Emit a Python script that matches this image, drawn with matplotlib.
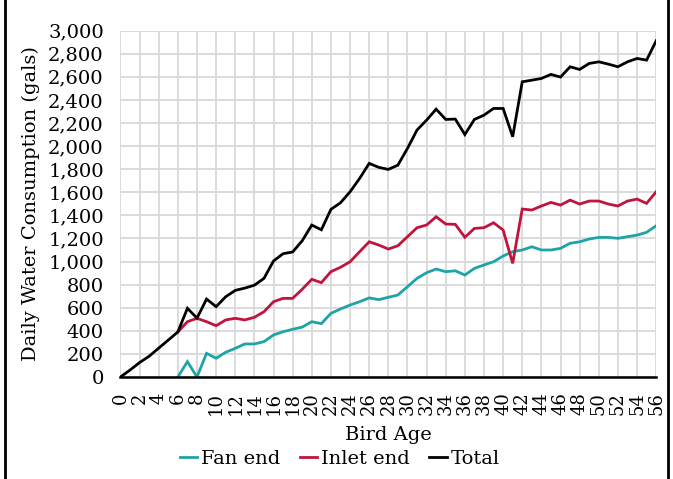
import numpy as np
import matplotlib
matplotlib.use("Agg")
import matplotlib.pyplot as plt
from matplotlib.lines import Line2D

# bird age in days
days = np.arange(0, 57)

# daily water consumption (gals)
total = [0, 60, 125, 180, 250, 320, 390, 595, 510, 675,
         609, 695, 750, 770, 795, 854, 1005, 1068, 1083, 1180,
         1316, 1275, 1452, 1509, 1604, 1720, 1850, 1816, 1798, 1835,
         1980, 2139, 2225, 2320, 2231, 2234, 2100, 2231, 2268, 2326,
         2326, 2081, 2557, 2571, 2586, 2621, 2598, 2687, 2664, 2716,
         2730, 2710, 2687, 2730, 2759, 2745, 2912]
inlet = [None] * 6 + [390, 479, 508, 479,
         444, 494, 508, 494, 517, 565, 652, 681, 681, 760,
         846, 817, 912, 950, 998, 1085, 1171, 1143, 1108, 1137,
         1215, 1293, 1316, 1388, 1325, 1322, 1210, 1287, 1293, 1336,
         1273, 984, 1455, 1446, 1481, 1512, 1489, 1532, 1498, 1524,
         1524, 1498, 1481, 1524, 1541, 1504, 1604]
fan = [None] * 6 + [0, 133, 0, 205,
       162, 214, 248, 286, 286, 306, 364, 392, 413, 432,
       479, 462, 551, 589, 623, 652, 685, 670, 690, 710,
       782, 854, 903, 935, 912, 920, 883, 941, 970, 998,
       1048, 1085, 1100, 1128, 1100, 1100, 1114, 1158, 1171, 1195,
       1209, 1209, 1201, 1215, 1229, 1253, 1310]

series_names = ["Fan end", "Inlet end", "Total"]
series_colors = ["#1ea3a6", "#c0143c", "#000000"]

plt.rcParams['font.family'] = ['DejaVu Serif']

fig = plt.figure(figsize=(6.73, 4.79), dpi=100)
ax = fig.add_axes([0.179, 0.213, 0.796, 0.723])

fan_arr = np.array([np.nan if v is None else v for v in fan], dtype=float)
inlet_arr = np.array([np.nan if v is None else v for v in inlet], dtype=float)
for vals, name, col in zip([fan_arr, inlet_arr, np.array(total, dtype=float)],
                           series_names, series_colors):
    ax.plot(days, vals, color=col, lw=2.0, label=name, solid_joinstyle='miter')

ax.set_xlim(0, 56)
ax.set_ylim(0, 3000)
ax.set_xticks(np.arange(0, 57, 2))
ax.set_xticklabels([str(d) for d in range(0, 57, 2)], rotation=90, fontsize=13)
ax.set_yticks(np.arange(0, 3001, 200))
ax.set_yticklabels(["{:,}".format(v) for v in range(0, 3001, 200)], fontsize=14)
ax.tick_params(axis="x", length=0, pad=11)
ax.tick_params(axis="y", length=0, pad=12)
ax.grid(True, color="#d9d9d9", lw=1.3)
ax.set_axisbelow(True)
for s in ["top", "right", "left"]:
    ax.spines[s].set_visible(False)
ax.spines["bottom"].set_linewidth(1.8)
ax.spines["bottom"].set_zorder(5)

ax.set_xlabel("Bird Age", fontsize=14, labelpad=8)
ax.set_ylabel("Daily Water Consumption (gals)", fontsize=14, labelpad=6)

fig.legend(loc="center", bbox_to_anchor=(0.505, 0.042), ncol=3, frameon=False,
           fontsize=14, handlelength=0.9, handletextpad=0.2, columnspacing=1.0)

# outer frame lines on the left and right
fig.add_artist(Line2D([0.008, 0.008], [0, 1], color="black", lw=2, transform=fig.transFigure))
fig.add_artist(Line2D([0.993, 0.993], [0, 1], color="black", lw=2, transform=fig.transFigure))

fig.savefig("out.png", dpi=100)
